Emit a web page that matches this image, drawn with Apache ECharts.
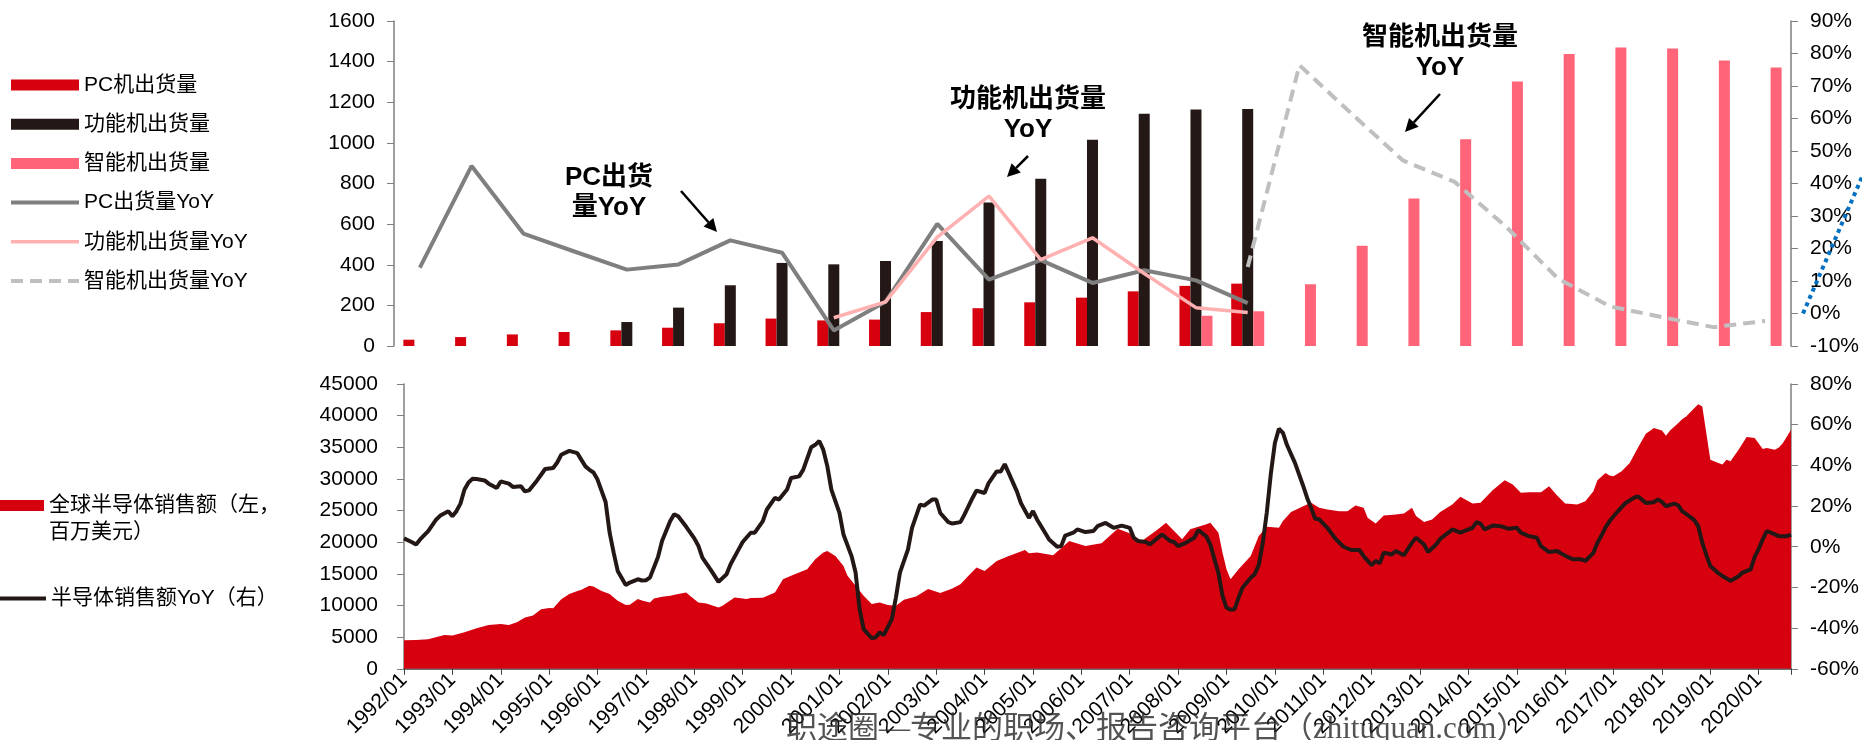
<!DOCTYPE html>
<html><head><meta charset="utf-8">
<script src="https://cdn.jsdelivr.net/npm/echarts@6/dist/echarts.min.js"></script>
<style>html,body{margin:0;padding:0;background:#fff}#main{width:1862px;height:740px}</style>
</head><body><div id="main"></div>
<script>
// ---------- top chart data (annual, million units / YoY %) ----------
const years = ['1993','1994','1995','1996','1997','1998','1999','2000','2001','2002','2003','2004','2005','2006','2007','2008','2009','2010','2011','2012','2013','2014','2015','2016','2017','2018','2019'];
const pcShip      = [31,44,57,69,77,90,112,135,126,130,167,186,215,238,269,296,307,null,null,null,null,null,null,null,null,null,null];
const featureShip = [null,null,null,null,118,189,299,409,402,419,517,706,824,1016,1143,1164,1167,null,null,null,null,null,null,null,null,null,null];
const smartShip   = [null,null,null,null,null,null,null,null,null,null,null,null,null,null,null,149,171,304,493,726,1018,1302,1438,1470,1465,1406,1371];
const pcYoY       = [14.1,45.4,24.6,19.0,13.5,15.1,22.5,18.7,-5.2,3.6,27.6,10.4,16.4,9.4,13.3,10.2,3.2,null,null,null,null,null,null,null,null,null,null];
const featureYoY  = [null,null,null,null,null,null,null,null,-1.3,3.6,23.5,36.1,16.6,23.3,12.3,1.8,0.3,null,null,null,null,null,null,null,null,null,null];
const smartYoY    = [null,null,null,null,null,null,null,null,null,null,null,null,null,null,null,null,14.3,76.4,61.6,47.1,40.5,26.6,10.7,2.2,-1.1,-4.2,-2.3];
const blueTrendCats = ['a','b'];
const blueTrend   = [0,42];

// ---------- bottom chart data (monthly, million USD / YoY %) ----------
const semiSales = [
['1992/01',4500],['1992/04',4560],['1992/07',4650],['1992/11',5350],['1993/01',5250],['1993/04',5770],['1993/07',6400],['1993/10',6900],['1994/01',7080],['1994/03',6900],['1994/05',7350],['1994/07',8100],['1994/09',8400],['1994/11',9400],['1995/01',9600],['1995/02',9550],['1995/04',11000],['1995/06',11800],['1995/08',12300],['1995/09',12480],['1995/11',13110],['1995/12',13000],['1996/02',12300],['1996/04',11800],['1996/06',10750],['1996/08',10070],['1996/09',10100],['1996/11',11010],['1996/12',10800],['1997/02',10490],['1997/03',11100],['1997/05',11380],['1997/07',11540],['1997/09',11800],['1997/11',12060],['1997/12',11500],['1998/02',10490],['1998/04',10330],['1998/07',9700],['1998/08',9970],['1998/11',11280],['1999/02',11010],['1999/03',11170],['1999/06',11220],['1999/09',12060],['1999/11',14160],['2000/01',14690],['2000/03',15210],['2000/05',15740],['2000/07',17310],['2000/09',18360],['2000/10',18620],['2000/12',17830],['2001/02',16260],['2001/03',14690],['2001/05',13110],['2001/07',11540],['2001/09',10230],['2001/11',10490],['2002/01',10070],['2002/03',9970],['2002/05',10910],['2002/08',11430],['2002/11',12590],['2003/02',11960],['2003/05',12690],['2003/07',13370],['2003/09',14690],['2003/11',16000],['2004/01',15470],['2004/04',17050],['2004/07',17830],['2004/11',18780],['2004/12',18250],['2005/02',18360],['2005/06',17940],['2005/10',20190],['2006/02',19410],['2006/06',19830],['2006/10',22130],['2007/01',21400],['2007/04',20190],['2007/08',22030],['2007/10',23080],['2008/02',20460],['2008/04',22030],['2008/08',22820],['2008/09',23080],['2008/11',21500],['2008/12',18360],['2009/01',15740],['2009/02',14160],['2009/04',15740],['2009/07',17830],['2009/09',20980],['2009/11',22450],['2010/02',22290],['2010/03',23340],['2010/05',24760],['2010/08',25700],['2010/10',26230],['2010/12',25440],['2011/02',25180],['2011/05',24910],['2011/07',24910],['2011/09',25800],['2011/11',25440],['2011/12',23870],['2012/02',22970],['2012/04',24230],['2012/07',24390],['2012/09',24550],['2012/11',25440],['2012/12',24130],['2013/02',23180],['2013/04',23600],['2013/06',24760],['2013/09',25960],['2013/11',27170],['2014/02',26120],['2014/04',26230],['2014/07',28220],['2014/10',29790],['2014/12',29110],['2015/02',27800],['2015/04',27900],['2015/07',27900],['2015/09',28850],['2015/11',27380],['2016/01',26120],['2016/04',25960],['2016/06',26490],['2016/08',28060],['2016/09',29800],['2016/11',30950],['2016/12',30530],['2017/01',30420],['2017/03',31210],['2017/05',32520],['2017/07',34880],['2017/09',37130],['2017/11',38030],['2018/01',37660],['2018/02',36820],['2018/03',37660],['2018/05',38810],['2018/06',39440],['2018/07',39860],['2018/09',41170],['2018/10',41800],['2018/11',41430],['2018/12',37240],['2019/01',33040],['2019/03',32520],['2019/04',32260],['2019/05',33040],['2019/06',32780],['2019/08',34620],['2019/10',36610],['2019/12',36450],['2020/02',34720],['2020/03',34880],['2020/05',34620],['2020/06',34980],['2020/07',35670],['2020/08',36720],['2020/09',37760]
];
const semiYoY = [
['1992/01',4.1],['1992/03',2.2],['1992/04',1.1],['1992/05',3.6],['1992/07',7.7],['1992/09',13.4],['1992/10',15.3],['1992/12',17.5],['1993/01',15.0],['1993/02',17.5],['1993/03',21.2],['1993/04',28.1],['1993/05',31.6],['1993/06',33.4],['1993/07',33.3],['1993/09',32.6],['1993/10',31.0],['1993/12',28.9],['1994/01',32.1],['1994/03',31.0],['1994/04',29.4],['1994/06',29.7],['1994/07',27.2],['1994/08',27.7],['1994/10',32.6],['1994/11',35.4],['1994/12',38.2],['1995/02',38.7],['1995/03',41.4],['1995/04',45.2],['1995/06',47.1],['1995/08',46.0],['1995/09',42.7],['1995/10',39.5],['1995/11',37.8],['1995/12',36.5],['1996/01',33.0],['1996/03',22.0],['1996/04',6.9],['1996/05',-2.9],['1996/06',-11.9],['1996/08',-18.8],['1996/09',-17.6],['1996/11',-16.0],['1996/12',-16.6],['1997/01',-16.5],['1997/02',-15.2],['1997/04',-5.0],['1997/05',2.8],['1997/07',12.5],['1997/08',16.0],['1997/09',15.0],['1997/11',9.8],['1998/01',4.1],['1998/02',0.5],['1998/03',-5.4],['1998/05',-11.1],['1998/07',-17.3],['1998/09',-13.5],['1998/10',-8.6],['1998/12',-1.3],['1999/01',2.3],['1999/03',6.9],['1999/04',6.9],['1999/06',12.6],['1999/07',18.3],['1999/09',24.0],['1999/10',23.2],['1999/12',28.1],['2000/01',33.8],['2000/03',34.6],['2000/04',37.8],['2000/06',48.9],['2000/07',50.1],['2000/08',52.0],['2000/09',47.6],['2000/10',39.5],['2000/11',28.1],['2001/01',16.6],['2001/02',6.0],['2001/04',-4.6],['2001/05',-12.7],['2001/06',-30.7],['2001/07',-40.5],['2001/09',-45.0],['2001/10',-44.5],['2001/11',-42.1],['2001/12',-43.4],['2002/02',-35.6],['2002/03',-25.0],['2002/04',-12.7],['2002/06',-1.3],['2002/07',9.3],['2002/09',20.7],['2002/10',20.2],['2002/12',23.2],['2003/01',23.2],['2003/02',16.6],['2003/04',12.1],['2003/05',11.4],['2003/07',12.1],['2003/08',15.8],['2003/10',24.0],['2003/11',27.6],['2004/01',26.4],['2004/02',31.3],['2004/04',37.0],['2004/05',37.0],['2004/06',40.6],['2004/07',36.2],['2004/09',27.2],['2004/10',21.5],['2004/12',14.2],['2005/01',17.5],['2005/02',13.4],['2005/04',6.9],['2005/05',3.6],['2005/07',0.0],['2005/08',0.3],['2005/09',5.5],['2005/11',6.9],['2005/12',8.5],['2006/02',7.2],['2006/04',7.7],['2006/05',10.1],['2006/07',11.7],['2006/09',9.3],['2006/11',10.4],['2007/01',9.3],['2007/02',4.4],['2007/03',2.8],['2007/05',2.3],['2007/06',1.1],['2007/08',4.4],['2007/09',6.0],['2007/11',2.8],['2007/12',2.3],['2008/01',0.3],['2008/03',2.0],['2008/05',4.4],['2008/06',8.2],['2008/08',5.0],['2008/09',1.0],['2008/10',-6.0],['2008/11',-13.0],['2008/12',-24.0],['2009/01',-30.0],['2009/02',-31.0],['2009/03',-30.7],['2009/04',-25.0],['2009/05',-20.0],['2009/07',-15.2],['2009/08',-13.5],['2009/09',-9.0],['2009/10',2.0],['2009/11',17.0],['2009/12',36.0],['2010/01',51.0],['2010/02',58.0],['2010/03',56.0],['2010/04',50.0],['2010/06',41.1],['2010/08',30.0],['2010/09',24.0],['2010/10',19.0],['2010/11',13.7],['2010/12',13.5],['2011/02',9.3],['2011/04',4.0],['2011/06',0.0],['2011/08',-1.6],['2011/10',-1.6],['2011/11',-4.6],['2012/01',-9.1],['2012/02',-7.0],['2012/03',-8.2],['2012/04',-2.9],['2012/06',-3.8],['2012/07',-2.1],['2012/09',-4.2],['2012/11',2.0],['2012/12',4.4],['2013/02',1.1],['2013/03',-2.6],['2013/05',1.1],['2013/06',3.9],['2013/08',6.9],['2013/09',8.5],['2013/11',6.9],['2014/02',9.3],['2014/03',12.1],['2014/04',11.4],['2014/05',8.5],['2014/07',10.4],['2014/09',10.1],['2014/11',8.8],['2015/01',9.3],['2015/02',6.9],['2015/04',5.2],['2015/06',4.4],['2015/07',0.3],['2015/09',-2.6],['2015/11',-2.1],['2015/12',-3.3],['2016/02',-5.4],['2016/03',-6.2],['2016/05',-6.2],['2016/06',-7.0],['2016/08',-3.0],['2016/09',2.0],['2016/10',5.5],['2016/11',9.5],['2016/12',12.5],['2017/01',15.0],['2017/03',19.5],['2017/04',21.5],['2017/06',24.0],['2017/07',24.8],['2017/08',23.2],['2017/09',21.5],['2017/11',21.9],['2017/12',23.2],['2018/01',22.0],['2018/02',19.9],['2018/04',21.2],['2018/05',20.4],['2018/06',17.5],['2018/08',14.7],['2018/09',13.1],['2018/10',10.1],['2018/11',2.0],['2018/12',-4.0],['2019/01',-9.5],['2019/03',-13.0],['2019/04',-14.4],['2019/06',-16.8],['2019/08',-14.5],['2019/09',-12.7],['2019/11',-11.1],['2019/12',-5.0],['2020/01',-1.0],['2020/02',3.6],['2020/03',7.7],['2020/04',6.9],['2020/06',5.2],['2020/08',5.2],['2020/09',6.0]
];
const monthStartYear = 1992;
const lastMonth = '2020/09';

const FF = '"Liberation Sans","Noto Sans CJK SC",sans-serif';
const toIdx = s => { const p = s.split('/').map(Number); return (p[0]-monthStartYear)*12 + p[1]-1; };
const maxIdx = toIdx(lastMonth);

function arrow(x0,y0,x1,y1){
  const dx=x1-x0, dy=y1-y0, L=Math.hypot(dx,dy), ux=dx/L, uy=dy/L, nx=-uy, ny=ux;
  const hl=13, hw=6.5, bx=x1-ux*hl, by=y1-uy*hl;
  return {type:'group', z:50, children:[
    {type:'line', shape:{x1:x0,y1:y0,x2:bx,y2:by}, style:{stroke:'#000', lineWidth:2.5}},
    {type:'polygon', shape:{points:[[x1,y1],[bx+nx*hw,by+ny*hw],[bx-nx*hw,by-ny*hw]]}, style:{fill:'#000'}}
  ]};
}
function label(x,y,text){
  return {type:'text', x:x, y:y, z:50, style:{text:text, font:'bold 26px '+FF, fill:'#000', align:'center', verticalAlign:'middle', textAlign:'center', textVerticalAlign:'middle', lineHeight:30}};
}

const C_PC='#D7000F', C_FEAT='#231815', C_SMART='#FF6478', C_PCY='#7F7F7F', C_FEATY='#FFB1B1', C_SMARTY='#BFBFBF';
const axisLbl = {fontSize:21, color:'#000', fontFamily:FF};
const plain = v => String(v);
const pct = v => v + '%';
const yLine = {show:true, lineStyle:{color:'#7f7f7f', width:1.5}};
const yTick = {show:true, length:7, lineStyle:{color:'#7f7f7f'}};
const noSym = {opacity:0};

const chart = echarts.init(document.getElementById('main'), null, {renderer:'canvas'});
chart.setOption({
  animation:false,
  backgroundColor:'#fff',
  textStyle:{fontFamily:FF},
  grid:[
    {left:394, right:68, top:21, height:325},
    {left:404, right:68, top:384, height:286},
    {left:1803, right:0, top:21, height:325}
  ],
  legend:[
    {orient:'vertical', left:9, top:74, padding:0, itemWidth:68, itemHeight:11, itemGap:17.2, selectedMode:false,
     textStyle:{fontSize:21, lineHeight:22, color:'#000', fontFamily:FF},
     data:[{name:'PC机出货量',icon:'rect'},{name:'功能机出货量',icon:'rect'},{name:'智能机出货量',icon:'rect'},
           {name:'PC出货量YoY',itemStyle:noSym,lineStyle:{color:C_PCY,width:4}},
           {name:'功能机出货量YoY',itemStyle:noSym,lineStyle:{color:C_FEATY,width:3.5}},
           {name:'智能机出货量YoY',itemStyle:noSym,lineStyle:{color:C_SMARTY,width:4,type:[12,7]}}]},
    {orient:'vertical', left:-24, top:465, padding:0, itemWidth:68, itemHeight:11, selectedMode:false,
     textStyle:{fontSize:21, lineHeight:27, color:'#000', fontFamily:FF},
     formatter:function(){ return '\n全球半导体销售额（左，\n百万美元）'; },
     data:[{name:'全球半导体销售额（左，百万美元）',icon:'rect'}]},
    {orient:'vertical', left:-24, top:585, padding:0, itemWidth:68, itemHeight:11, selectedMode:false,
     textStyle:{fontSize:21, lineHeight:27, color:'#000', fontFamily:FF},
     data:[{name:'半导体销售额YoY（右）',itemStyle:noSym,lineStyle:{color:C_FEAT,width:4}}]}
  ],
  xAxis:[
    {type:'category', gridIndex:0, data:years, boundaryGap:true, axisLine:{show:false}, axisTick:{show:false}, axisLabel:{show:false}},
    {type:'value', gridIndex:1, min:0, max:maxIdx, interval:12, splitLine:{show:false},
     axisLine:{show:true, lineStyle:{color:'#404040', width:1.5}}, axisTick:{show:true, length:6, lineStyle:{color:'#404040'}},
     axisLabel:Object.assign({rotate:45, margin:8, formatter:function(v){ return v%12===0 ? (monthStartYear+v/12)+'/01' : ''; }}, axisLbl)},
    {type:'category', gridIndex:2, data:blueTrendCats, boundaryGap:false, show:false}
  ],
  yAxis:[
    {type:'value', gridIndex:0, min:0, max:1600, interval:200, splitLine:{show:false}, axisLine:yLine, axisTick:yTick, axisLabel:Object.assign({margin:19, formatter:plain}, axisLbl)},
    {type:'value', gridIndex:0, position:'right', min:-10, max:90, interval:10, splitLine:{show:false}, axisLine:yLine, axisTick:yTick, axisLabel:Object.assign({margin:19, formatter:pct}, axisLbl)},
    {type:'value', gridIndex:1, min:0, max:45000, interval:5000, splitLine:{show:false}, axisLine:yLine, axisTick:yTick, axisLabel:Object.assign({margin:26, formatter:plain}, axisLbl)},
    {type:'value', gridIndex:1, position:'right', min:-60, max:80, interval:20, splitLine:{show:false}, axisLine:yLine, axisTick:yTick, axisLabel:Object.assign({margin:19, formatter:pct}, axisLbl)},
    {type:'value', gridIndex:2, min:-10, max:90, show:false}
  ],
  series:[
    {name:'PC机出货量', type:'bar', xAxisIndex:0, yAxisIndex:0, data:pcShip, barWidth:11, barGap:'0%', itemStyle:{color:C_PC}},
    {name:'功能机出货量', type:'bar', xAxisIndex:0, yAxisIndex:0, data:featureShip, barWidth:11, barGap:'0%', itemStyle:{color:C_FEAT}},
    {name:'智能机出货量', type:'bar', xAxisIndex:0, yAxisIndex:0, data:smartShip, barWidth:11, barGap:'0%', itemStyle:{color:C_SMART}},
    {name:'PC出货量YoY', type:'line', xAxisIndex:0, yAxisIndex:1, data:pcYoY, symbol:'none', color:C_PCY, lineStyle:{color:C_PCY, width:4}},
    {name:'功能机出货量YoY', type:'line', xAxisIndex:0, yAxisIndex:1, data:featureYoY, symbol:'none', color:C_FEATY, lineStyle:{color:C_FEATY, width:3.5}},
    {name:'智能机出货量YoY', type:'line', xAxisIndex:0, yAxisIndex:1, data:smartYoY, symbol:'none', color:C_SMARTY, lineStyle:{color:C_SMARTY, width:4, type:[12,7]}},
    {name:'全球半导体销售额（左，百万美元）', type:'line', xAxisIndex:1, yAxisIndex:2, data:semiSales.map(d=>[toIdx(d[0]), d[1]]), symbol:'none', color:C_PC, itemStyle:{color:C_PC}, lineStyle:{width:0, color:C_PC}, areaStyle:{color:C_PC, opacity:1}},
    {name:'半导体销售额YoY（右）', type:'line', xAxisIndex:1, yAxisIndex:3, data:semiYoY.map(d=>[toIdx(d[0]), d[1]]), symbol:'none', color:C_FEAT, lineStyle:{color:C_FEAT, width:4}},
    {name:'trend', type:'line', xAxisIndex:2, yAxisIndex:4, data:blueTrend, symbol:'none', z:5, lineStyle:{color:'#0070C0', width:4, type:'dotted'}}
  ],
  graphic:[
    label(609,192.5,'PC出货\n量YoY'),
    label(1028,115,'功能机出货量\nYoY'),
    label(1440,53,'智能机出货量\nYoY'),
    arrow(681,191,717,232),
    arrow(1028,156,1007,177),
    arrow(1440,94,1405,132),
    {type:'text', x:786, y:714, z:100, style:{text:'职途圈—专业的职场、报告咨询平台（zhituquan.com）', font:'31px "Liberation Serif","Noto Sans CJK SC",serif', fill:'rgba(40,40,40,0.8)', align:'left', verticalAlign:'top', textAlign:'left', textVerticalAlign:'top'}}
  ]
});
</script></body></html>
